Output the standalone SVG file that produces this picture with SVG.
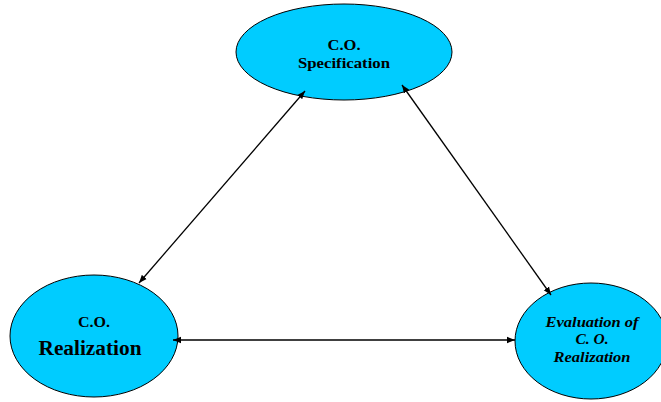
<svg xmlns="http://www.w3.org/2000/svg" width="661" height="402" viewBox="0 0 661 402">
  <style>
    .node { fill: #00CCFF; stroke: #000; stroke-width: 1; }
    .lbl { font-family: "Liberation Serif", "Times New Roman", serif; font-weight: bold; fill: #000; text-anchor: middle; }
    .it { font-style: italic; }
    .conn { stroke: #000; stroke-width: 1.3; fill: none; marker-start: url(#ah); marker-end: url(#ah); }
  </style>
  <defs>
    <marker id="ah" viewBox="0 0 10 10" refX="10" refY="5" markerWidth="8" markerHeight="8" markerUnits="userSpaceOnUse" orient="auto-start-reverse">
      <path d="M0,1 L10,5 L0,9 Z" fill="#000"/>
    </marker>
  </defs>
  <rect width="661" height="402" fill="#fff"/>

  <g id="spec">
    <ellipse class="node" cx="344" cy="52" rx="108" ry="48"/>
    <text class="lbl" x="344" y="50" font-size="15" textLength="33" lengthAdjust="spacingAndGlyphs">C.O.</text>
    <text class="lbl" x="344" y="68" font-size="15" textLength="92" lengthAdjust="spacingAndGlyphs">Specification</text>
  </g>

  <g id="realization">
    <ellipse class="node" cx="94" cy="336" rx="84" ry="61"/>
    <text class="lbl" x="94" y="327" font-size="15" textLength="32" lengthAdjust="spacingAndGlyphs">C.O.</text>
    <text class="lbl" x="90" y="355" font-size="20" textLength="103" lengthAdjust="spacingAndGlyphs">Realization</text>
  </g>

  <g id="evaluation">
    <ellipse class="node" cx="591" cy="341" rx="76" ry="58"/>
    <text class="lbl it" x="592" y="327" font-size="15" textLength="93" lengthAdjust="spacingAndGlyphs">Evaluation of</text>
    <text class="lbl it" x="592" y="344" font-size="15" textLength="33" lengthAdjust="spacingAndGlyphs">C. O.</text>
    <text class="lbl it" x="592" y="362" font-size="15" textLength="77" lengthAdjust="spacingAndGlyphs">Realization</text>
  </g>

  <g id="connectors">
    <line class="conn" x1="305" y1="91" x2="139" y2="283"/>
    <line class="conn" x1="402" y1="85" x2="551" y2="295"/>
    <line class="conn" x1="173" y1="340" x2="515" y2="340"/>
  </g>
</svg>
